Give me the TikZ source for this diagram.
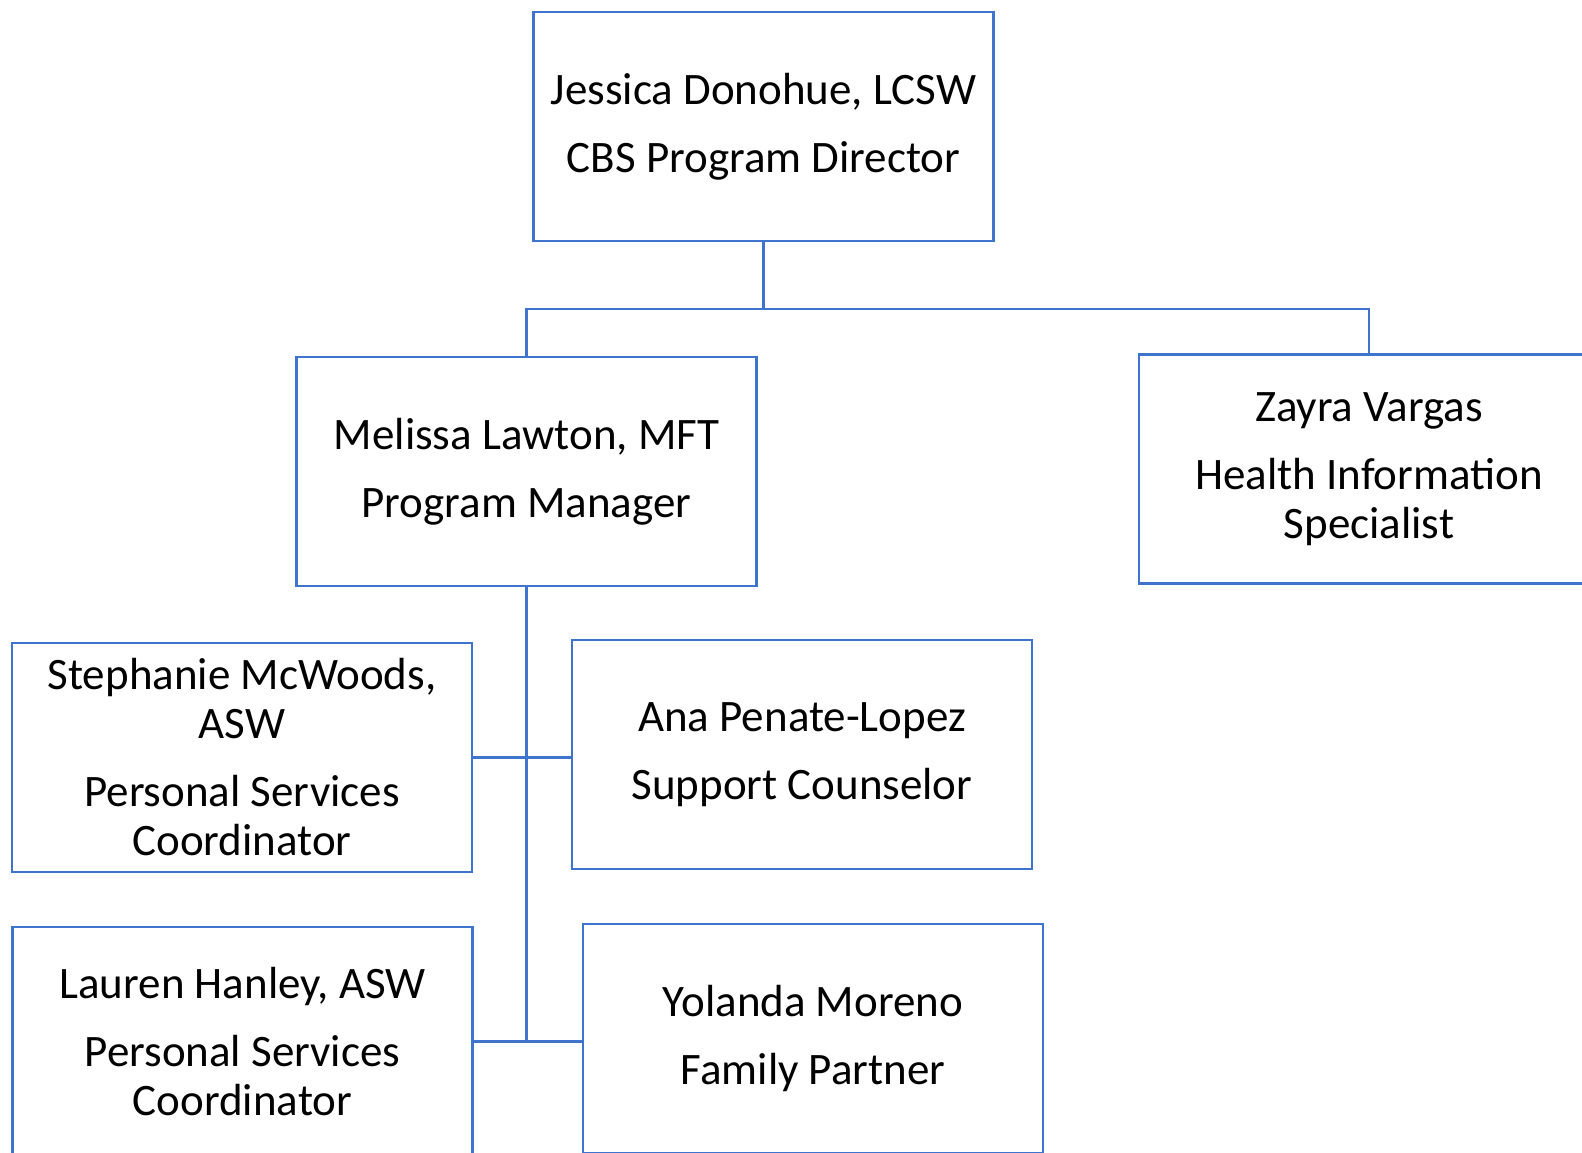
\documentclass[tikz,border=0pt]{standalone}
\usepackage{fontspec}
\setmainfont{Carlito}
\definecolor{orgblue}{RGB}{62,116,206}
\begin{document}
\begin{tikzpicture}[x=1pt,y=-1pt,
  staff/.style={draw=orgblue, line width=2.4pt, minimum width=460pt, minimum height=229pt,
    inner sep=0pt, align=center, font=\fontsize{45}{49}\selectfont},
  link/.style={draw=orgblue, line width=2.4pt}]
\useasboundingbox (0,0) rectangle (1582,1152);
\clip (0,0) rectangle (1582,1152);
\fill[white] (0,0) rectangle (1582,1152);
% boxes
\node[staff] (jessica) at (763.5,126.5) {Jessica Donohue, LCSW\\[19pt]CBS Program Director};
\node[staff] (melissa) at (526.5,471.5) {Melissa Lawton, MFT\\[19pt]Program Manager};
\node[staff] (zayra) at (1369,469) {Zayra Vargas\\[19pt]Health Information\\Specialist};
\node[staff] (stephanie) at (242,757.5) {Stephanie McWoods,\\ASW\\[19pt]Personal Services\\Coordinator};
\node[staff] (ana) at (802,754.5) {Ana Penate-Lopez\\[19pt]Support Counselor};
\node[staff] (lauren) at (242.5,1041.5) {Lauren Hanley, ASW\\[19pt]Personal Services\\Coordinator};
\node[staff] (yolanda) at (813,1038.5) {Yolanda Moreno\\[19pt]Family Partner};
% connectors
\draw[link] (jessica.south) -- ++(0,67) coordinate (split);
\draw[link] (melissa.north) |- (split) -| (zayra.north);
\draw[link] (melissa.south) -- (melissa.south |- lauren.east);
\draw[link] (stephanie.east) -- (stephanie.east -| ana.west);
\draw[link] (lauren.east) -- (lauren.east -| yolanda.west);
\end{tikzpicture}
\end{document}
